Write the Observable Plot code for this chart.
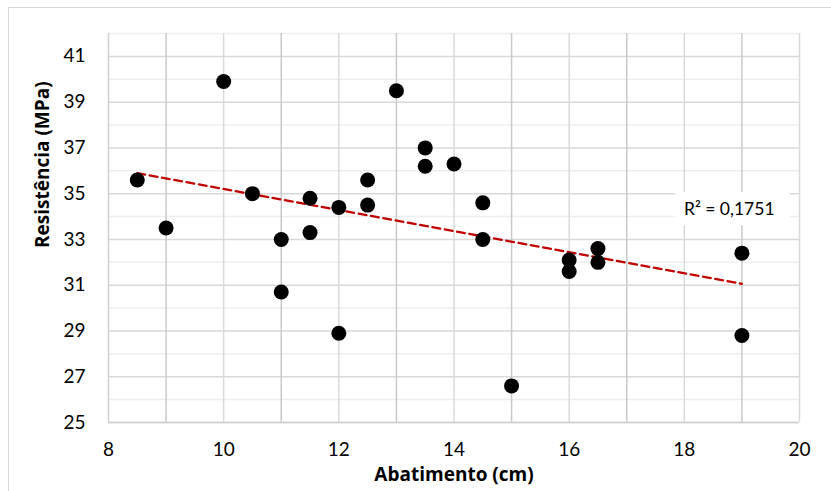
<!DOCTYPE html>
<html>
<head>
<meta charset="utf-8">
<script src="https://cdn.jsdelivr.net/npm/d3@7"></script>
<script src="https://cdn.jsdelivr.net/npm/@observablehq/plot@0.6"></script>
<style>
  html, body { margin: 0; padding: 0; background: #fff; overflow: hidden; }
  #wrap { position: relative; width: 831px; height: 491px; }
  #border { position: absolute; left: 8px; top: 7px; width: 900px; height: 600px;
            border: 1px solid #d9d9d9; box-sizing: border-box; pointer-events: none; }
  #chart { position: absolute; left: 0; top: 0; }
</style>
</head>
<body>
<div id="wrap"><div id="border"></div><div id="chart"></div></div>
<script>
// Slump (cm) vs compressive strength (MPa) samples
const abatimento  = [8.5, 9, 10, 10.5, 11.5, 11.5, 11, 12, 12.5, 12.5, 13, 13.5, 13.5, 14, 14.5, 14.5, 11, 12, 16.5, 16.5, 16, 16, 19, 19, 15];
const resistencia = [35.6, 33.5, 39.9, 35.0, 34.8, 33.3, 33.0, 34.4, 35.6, 34.5, 39.5, 37.0, 36.2, 36.3, 34.6, 33.0, 30.7, 28.9, 32.6, 32.0, 32.1, 31.6, 32.4, 28.8, 26.6];

const xTicks = [8, 10, 12, 14, 16, 18, 20];
const yTicks = [25, 27, 29, 31, 33, 35, 37, 39, 41];
const xGridOdd = [9, 11, 13, 15, 17, 19];
const xGridEven = [10, 12, 14, 16, 18, 20];
const yGridMinor = [26, 28, 30, 32, 34, 36, 38, 40, 42];
const r2Label = "R² = 0,1751";

const data = abatimento.map((x, i) => ({x, y: resistencia[i]}));

const titleFont = "'Open Sans', Lato, sans-serif";

const chart = Plot.plot({
  width: 831,
  height: 491,
  marginLeft: 108,
  marginRight: 32,
  marginTop: 33,
  marginBottom: 69,
  style: { fontFamily: "Lato, 'Open Sans', sans-serif", fontSize: "19px", color: "#000", background: "transparent" },
  x: { domain: [8, 20] },
  y: { domain: [25, 42] },
  marks: [
    // gridlines
    Plot.ruleY(yGridMinor, { stroke: "#efefef", strokeWidth: 1.5 }),
    Plot.ruleY(yTicks, { stroke: "#d9d9d9", strokeWidth: 1.5 }),
    Plot.ruleX(xGridEven, { stroke: "#dadada", strokeWidth: 1.5 }),
    Plot.ruleX(xGridOdd, { stroke: "#c9c9c9", strokeWidth: 1.5 }),
    Plot.ruleX([8], { stroke: "#d0d0d0", strokeWidth: 1.5 }),
    Plot.ruleY([25], { stroke: "#d0d0d0", strokeWidth: 1.5 }),
    // axes
    Plot.axisX({ ticks: xTicks, tickSize: 0, tickPadding: 20, label: null, fontSize: 19 }),
    Plot.axisY({ ticks: yTicks, tickSize: 0, tickPadding: 23, label: null, fontSize: 19 }),
    Plot.text(["Abatimento (cm)"], { frameAnchor: "bottom", dy: 58, fontWeight: "bold", fontSize: 19, fontFamily: titleFont, fill: "#000" }),
    Plot.text(["Resistência (MPa)"], { frameAnchor: "left", dx: -66, dy: 20, rotate: -90, fontWeight: "bold", fontSize: 19, fontFamily: titleFont, fill: "#000" }),
    // linear trend line
    Plot.linearRegressionY(data, { x: "x", y: "y", ci: 0, stroke: "#c00000", strokeWidth: 2.2, strokeDasharray: "8,4.5" }),
    // points
    Plot.dot(data, { x: "x", y: "y", r: 7.5, fill: "#000", stroke: "none" }),
    // R² label box
    Plot.rect([r2Label], { x1: 17.85, x2: 19.84, y1: 33.6, y2: 35.05, fill: "#fff" }),
    Plot.text([r2Label], { x: 18.78, y: 34.32, fontSize: 17.5, fill: "#000" })
  ]
});

document.getElementById("chart").appendChild(chart);
</script>
</body>
</html>
